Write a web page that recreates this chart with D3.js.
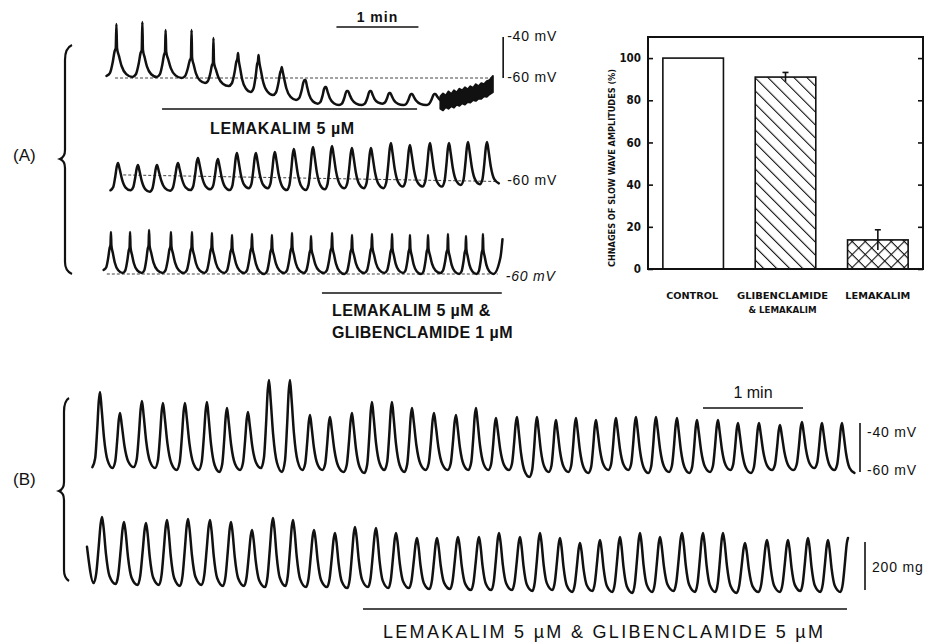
<!DOCTYPE html>
<html>
<head>
<meta charset="utf-8">
<script src="https://cdn.jsdelivr.net/npm/d3@7"></script>
<style>
body{margin:0;background:#fff;}
svg{font-family:"Liberation Sans",Arial,sans-serif;}
.trace{fill:none;stroke:#111;stroke-width:2.5;stroke-linejoin:round;stroke-linecap:round;}
.ref{fill:none;stroke:#444;stroke-width:1;stroke-dasharray:3,2;}
.bar{stroke:#111;stroke-width:1.6;}
</style>
</head>
<body>
<svg id="fig" width="933" height="644"></svg>
<script>
// ---- Panel A, time in s, membrane potential in mV ----
// A1: control then lemakalim 5 uM
const a1PeakT = [12, 31, 48, 67, 83, 101, 116, 133, 150, 165, 181, 198, 212, 228, 245];
const a1Top   = [-33.7, -32.7, -36.6, -36.6, -40.5, -47.8, -48.8, -54.6, -61, -64.4, -66.3, -66.3, -67.3, -67.8, -67.8];
const a1Hump  = [-45.4, -46.3, -47.3, -50.2, -52.7, -50.5, -51.5, -56, -61, -64.4, -66.3, -66.3, -67.3, -67.8, -67.8];
const a1Trough = [-59, -59.5, -59.5, -60, -62.4, -63.9, -66.8, -68.3, -70.7, -72.5, -73.2, -73.2, -72.5, -73.2, -73.2, -72];
// noisy band at the end of A1
const a1NoiseT  = [249, 251, 253, 255, 257, 259, 261, 263, 265, 267, 269, 271, 273, 275, 277, 279, 281, 283, 285, 287.5];
const a1NoiseHi = [-69, -67.5, -68.5, -66.5, -67.8, -66, -67, -65.2, -66, -64.5, -65.5, -64, -64.8, -63, -64, -62.5, -63, -61.5, -61, -59];
const a1NoiseLo = [-75, -75.8, -74.2, -75, -73.8, -74.5, -73, -73.6, -72.4, -73, -71.8, -72, -70.8, -71.2, -70, -70.2, -69, -69.2, -68, -67];

// A2: glibenclamide + lemakalim
const a2PeakT = [13.2, 27.8, 41.7, 57.1, 71.7, 86.3, 100.2, 114.1, 128, 141.9, 155.9, 169.8, 184.4, 198.3, 212.9, 226.8, 241.5, 255.4, 269.3, 283.2];
const a2Top   = [-52.7, -53.7, -53.7, -52.7, -50.2, -50.7, -47.8, -47.8, -47.3, -45.9, -44.9, -44.4, -45.4, -45.4, -42.9, -43.9, -42.9, -42.9, -42.4, -42.4];
const a2Trough = [-66, -66, -66.7, -66.2, -65.9, -65.5, -65.9, -65, -65, -65.9, -65.9, -65.5, -65, -65, -65, -64.2, -64.2, -64.2, -63.4, -63, -62.6];
const a2Ref = [{t: 17, v: -58.5}, {t: 291, v: -61.7}];

// A3: lemakalim 5 uM & glibenclamide 1 uM
const a3PeakT = [8, 22, 35.9, 51.9, 67.3, 81.9, 96.6, 111.2, 125.8, 140.5, 154.4, 169.8, 184.4, 199, 213.7, 226.8, 240, 254.6, 267.8, 280.2];
const a3Top   = [-39.5, -39.5, -38.5, -39.5, -39.5, -40, -41, -40.5, -41, -40, -41.5, -40, -41, -40.5, -40.5, -41, -41, -40.5, -41.5, -40.5];
const a3Hump  = [-46, -47, -46, -46.5, -47, -47, -47.5, -47, -47.5, -47, -48, -47, -47.5, -47, -47.5, -47.5, -47.5, -48, -48, -48];
const a3Trough = [-58, -59.5, -59.5, -59.5, -59.5, -59.5, -59.5, -59.5, -60, -59.5, -59.5, -59.5, -60, -59.5, -59.5, -59.5, -60, -59.5, -60, -60, -60];
const a3Tail = [{t: 293, v: -52}, {t: 294.5, v: -43}];

// ---- Panel B, time in s; B1 potential in mV, B2 tension in mg ----
const b1PeakT = [9, 21, 34.2, 46.8, 60, 73.2, 85.2, 97.8, 110.4, 123, 135, 147, 160.2, 172.2, 184.2, 196.2, 209.4, 222.6, 234.6, 246.6, 259.2, 271.2, 282.6, 294.6, 306.6, 318.6, 330.6, 342.6, 355.2, 367.2, 379.8, 391.8, 404.4, 417, 430.2, 442.2, 454.2];
const b1Top   = [-27.3, -35.9, -31, -31.8, -31.8, -31.4, -33.9, -35.5, -22.4, -22.4, -36.7, -37.6, -35.9, -31.4, -31.4, -33.9, -35.9, -36.7, -33.9, -38, -37.6, -37.6, -38.8, -38, -38.8, -38, -37.6, -37.6, -38, -38.8, -38.8, -40, -40, -40.8, -39.6, -40, -40];
const b1Trough = [-58, -58.4, -58, -58.4, -59.2, -59.2, -60, -59.2, -58.4, -60, -59.2, -59.2, -60, -60.4, -59.2, -60, -59.2, -59.2, -59.2, -59.2, -59.2, -62, -60, -60, -60.4, -59.2, -59.2, -60.4, -60, -60.4, -60, -59.2, -60.4, -59.2, -59.2, -58.4, -59.2, -60.4];

const b2PeakT = [10.2, 23.4, 36.6, 49.2, 61.8, 75, 87.6, 100.2, 112.8, 124.8, 137.4, 150, 162, 174.6, 186.6, 199.2, 211.2, 223.8, 236.4, 248.4, 261, 273, 285, 297, 309, 321, 333, 345, 358.2, 370.8, 382.8, 396, 409.2, 421.8, 433.8, 445.8, 457.8];
const b2Top   = [304, 283, 279, 292, 296, 292, 283, 250, 300, 292, 250, 238, 263, 258, 238, 217, 217, 221, 221, 238, 221, 238, 217, 196, 208, 221, 238, 221, 238, 238, 238, 196, 208, 208, 217, 208, 217];
const b2Trough = [29, 25, 21, 21, 17, 21, 17, 17, 12, 17, 12, 12, 8, 12, 8, 8, 4, 4, 0, 0, 0, -4, 0, -8, -4, -8, -12, -8, -4, -8, -8, -12, -8, -8, -4, -8, -8, -4];
const b2Lead = [{t: 1.2, v: 180}];
const b2End = 457.8;

// ---- bar chart ----
const barCats = ['CONTROL', 'GLIBENCLAMIDE', 'LEMAKALIM'];
const barSub  = ['', '& LEMAKALIM', ''];
const barVals = [100, 91, 13.8];
const barErr  = [0, 2.2, 4.8];
const barTicks = [0, 20, 40, 60, 80, 100];

// wave shapes: [phase in periods from the peak, fraction of the amplitude]
const spikeShape  = [[-0.38,0],[-0.25,0.1],[-0.14,0.5],[-0.07,0.88],[-0.025,1],[0,'top'],[0.025,1],[0.1,0.72],[0.2,0.38],[0.38,0.1]];
const roundShape  = [[-0.38,0],[-0.24,0.12],[-0.14,0.5],[-0.06,0.88],[0,'top'],[0.08,0.78],[0.2,0.4],[0.38,0.1]];
const smoothShape = [[-0.38,0],[-0.26,0.15],[-0.15,0.55],[-0.06,0.9],[0,'top'],[0.07,0.85],[0.18,0.45],[0.34,0.12]];

function tracePoints(peakT, tops, humps, troughs, shape){
	const n = peakT.length, pts = [];
	peakT.forEach((p,i) => {
		const pb = i > 0 ? p - peakT[i-1] : peakT[1] - peakT[0];
		const pa = i < n-1 ? peakT[i+1] - p : pb;
		const h = humps ? humps[i] : tops[i];
		shape.forEach(([ph,f]) => {
			if(f === 'top') pts.push({t:p, v:tops[i]});
			else if(ph < 0) pts.push({t:p + ph*pb, v:troughs[i] + f*(h - troughs[i])});
			else pts.push({t:p + ph*pa, v:troughs[i+1] + f*(h - troughs[i+1])});
		});
		if(i === n-1) pts.push({t:p + 0.62*pa, v:troughs[n]});
	});
	return pts;
}

const svg = d3.select('#fig');

// scales for the traces
const xA = d3.scaleLinear().domain([0,300]).range([100,510]);   // 60 s = 82 px
const xB = d3.scaleLinear().domain([0,480]).range([85,885]);    // 60 s = 100 px
const yA1 = d3.scaleLinear().domain([-60,-40]).range([78,37]);
const yA2 = d3.scaleLinear().domain([-60,-40]).range([178,137]);
const yA3 = d3.scaleLinear().domain([-60,-40]).range([274,233]);
const yB1 = d3.scaleLinear().domain([-60,-40]).range([472,423]);
const yB2 = d3.scaleLinear().domain([0,200]).range([590,542]);

function drawTrace(pts, x, y){
	const line = d3.line().x(d => x(d.t)).y(d => y(d.v)).curve(d3.curveMonotoneX);
	svg.append('path').attr('class','trace').attr('d', line(pts));
}
function refLine(pts, x, y){
	svg.append('path').attr('class','ref')
		.attr('d', d3.line().x(d => x(d.t)).y(d => y(d.v))(pts));
}
function txt(s, x, y, size, opts={}){
	const t = svg.append('text').attr('x',x).attr('y',y).attr('font-size',size)
		.attr('fill','#111').text(s);
	if(opts.bold) t.attr('font-weight','bold');
	if(opts.ls) t.attr('letter-spacing',opts.ls);
	if(opts.anchor) t.attr('text-anchor',opts.anchor);
	if(opts.italic) t.attr('font-style','italic');
	return t;
}
function hbar(x, t0, t1, yy){
	svg.append('line').attr('x1',x(t0)).attr('x2',x(t1)).attr('y1',yy).attr('y2',yy)
		.attr('stroke','#111').attr('stroke-width',1.6);
}
function vbar(xx, y, v0, v1){
	svg.append('line').attr('x1',xx).attr('x2',xx).attr('y1',y(v0)).attr('y2',y(v1))
		.attr('stroke','#111').attr('stroke-width',1.6);
}

// reference (dotted) lines
refLine([{t:11,v:-60},{t:287.5,v:-60}], xA, yA1);
refLine(a2Ref, xA, yA2);
refLine([{t:5,v:-60},{t:291,v:-60}], xA, yA3);

// A traces
drawTrace(tracePoints(a1PeakT, a1Top, a1Hump, a1Trough, spikeShape), xA, yA1);
const noise = a1NoiseT.map((t,i) => ({t, hi:a1NoiseHi[i], lo:a1NoiseLo[i]}));
svg.append('path')
	.attr('d', d3.area().x(d => xA(d.t)).y0(d => yA1(d.lo)).y1(d => yA1(d.hi))(noise))
	.attr('fill','#111').attr('stroke','#111').attr('stroke-width',1.8).attr('stroke-linejoin','round');
drawTrace(tracePoints(a2PeakT, a2Top, null, a2Trough, roundShape), xA, yA2);
drawTrace(tracePoints(a3PeakT, a3Top, a3Hump, a3Trough, spikeShape).concat(a3Tail), xA, yA3);

// B traces
drawTrace(tracePoints(b1PeakT, b1Top, null, b1Trough, roundShape), xB, yB1);
drawTrace(b2Lead.concat(tracePoints(b2PeakT, b2Top, null, b2Trough, smoothShape)).filter(d => d.t <= b2End), xB, yB2);

// A annotations
hbar(xA, 173, 233, 27);
txt('1 min', xA(203), 22, 14, {bold:true, anchor:'middle', ls:1});
vbar(xA(295), yA1, -60, -40);
txt('-40 mV', xA(295)+4, yA1(-40)+4, 14, {ls:0.8});
txt('-60 mV', xA(295)+4, yA1(-60)+4, 14, {ls:0.8});
txt('-60 mV', xA(295)+4, yA2(-61)+5, 14, {ls:0.8});
txt('-60 mV', xA(294)+4, yA3(-60)+7, 14, {ls:0.8, italic:true});
hbar(xA, 45.4, 232, 109);
txt('LEMAKALIM 5 \u00b5M', xA(45.4)+48, 134, 16, {bold:true, ls:0.6});
hbar(xA, 162.4, 294, 293);
txt('LEMAKALIM 5 \u00b5M &', 332, 316, 16, {bold:true, ls:0.4});
txt('GLIBENCLAMIDE 1 \u00b5M', 332, 338, 16, {bold:true, ls:0.4});

// B annotations
hbar(xB, 370.8, 430.8, 408);
txt('1 min', xB(400.8), 398, 16, {anchor:'middle'});
vbar(xB(465), yB1, -60, -40);
txt('-40 mV', xB(465)+7, yB1(-40)+14, 14, {ls:0.8});
txt('-60 mV', xB(465)+7, yB1(-59)+5, 14, {ls:0.8});
vbar(xB(468), yB2, 0, 200);
txt('200 mg', xB(468)+7, yB2(100)+6, 14, {ls:0.8});
hbar(xB, 166.8, 457.2, 609);
txt('LEMAKALIM 5 \u00b5M & GLIBENCLAMIDE 5 \u00b5M', 383, 638, 18, {ls:2.3});

// panel labels and braces
txt('(A)', 13, 161, 17);
txt('(B)', 13, 485, 17);
svg.append('path').attr('fill','none').attr('stroke','#111').attr('stroke-width',2.2)
	.attr('d','M72,45 Q65,48 65,60 L65,150 Q65,157 60,159 Q65,161 65,168 L65,262 Q65,271 72,274');
svg.append('path').attr('fill','none').attr('stroke','#111').attr('stroke-width',2.2)
	.attr('d','M69,398 Q64,401 64,412 L64,482 Q64,489 59,491 Q64,493 64,500 L64,570 Q64,578 69,581');

// ---- bar chart ----
const plot = {l:648, r:923, t:37, b:269};
const xBar = d3.scaleBand().domain(barCats).range([plot.l, plot.r]).paddingInner(0.344).paddingOuter(0.161);
const yBar = d3.scaleLinear().domain([0,110]).range([plot.b, plot.t]);

const defs = svg.append('defs');
const p1 = defs.append('pattern').attr('id','hatch').attr('patternUnits','userSpaceOnUse')
	.attr('width',9.2).attr('height',9.2).attr('patternTransform','rotate(-45)');
p1.append('line').attr('x1',0).attr('x2',0).attr('y1',0).attr('y2',9.2).attr('stroke','#111').attr('stroke-width',2.2);
const p2 = defs.append('pattern').attr('id','cross').attr('patternUnits','userSpaceOnUse')
	.attr('width',9.2).attr('height',9.2).attr('patternTransform','rotate(45)');
p2.append('line').attr('x1',0).attr('x2',0).attr('y1',0).attr('y2',9.2).attr('stroke','#111').attr('stroke-width',2.2);
p2.append('line').attr('x1',0).attr('x2',9.2).attr('y1',0).attr('y2',0).attr('stroke','#111').attr('stroke-width',2.2);
const fills = ['#fff','url(#hatch)','url(#cross)'];

const chart = svg.append('g').attr('font-family','"DejaVu Sans Condensed","DejaVu Sans",sans-serif').attr('font-weight','bold');

chart.selectAll('.bar')
	.data(barVals)
	.enter().append('rect')
	.attr('class','bar')
	.attr('x', (d,i) => xBar(barCats[i]))
	.attr('width', xBar.bandwidth())
	.attr('y', d => yBar(d))
	.attr('height', d => plot.b - yBar(d))
	.attr('fill', (d,i) => fills[i]);

// error bars
barVals.forEach((v,i) => {
	if(!barErr[i]) return;
	const cx = xBar(barCats[i]) + xBar.bandwidth()/2;
	const g = chart.append('g').attr('stroke','#111').attr('stroke-width',1.6);
	g.append('line').attr('x1',cx).attr('x2',cx).attr('y1',yBar(v - barErr[i])).attr('y2',yBar(v + barErr[i]));
	g.append('line').attr('x1',cx-3).attr('x2',cx+3).attr('y1',yBar(v + barErr[i])).attr('y2',yBar(v + barErr[i]));
});

// frame
chart.append('rect').attr('x',plot.l).attr('y',plot.t).attr('width',plot.r-plot.l).attr('height',plot.b-plot.t)
	.attr('fill','none').attr('stroke','#111').attr('stroke-width',2);

const axisL = d3.axisLeft(yBar).tickValues(barTicks).tickSize(-5).tickPadding(7);
const axL = chart.append('g').attr('transform',`translate(${plot.l},0)`).call(axisL);
axL.select('.domain').remove();
axL.selectAll('line').attr('stroke','#111').attr('stroke-width',1.6);
axL.selectAll('text').attr('font-size',11.5).attr('font-family','"DejaVu Sans Condensed","DejaVu Sans",sans-serif').attr('font-weight','bold').attr('fill','#111');

const axisR = d3.axisRight(yBar).tickValues(barTicks).tickSize(-5).tickFormat('');
const axR = chart.append('g').attr('transform',`translate(${plot.r},0)`).call(axisR);
axR.select('.domain').remove();
axR.selectAll('line').attr('stroke','#111').attr('stroke-width',1.6);

chart.append('text')
	.attr('transform',`translate(615,168) rotate(-90)`)
	.attr('text-anchor','middle').attr('font-size',9)
	.attr('textLength',198).attr('lengthAdjust','spacingAndGlyphs')
	.attr('fill','#111')
	.text('CHNAGES OF SLOW WAVE AMPLITUDES (%)');

const catW = [52, 91, 65];
barCats.forEach((c,i) => {
	const cx = xBar(c) + xBar.bandwidth()/2 + (i === 0 ? -1 : i === 1 ? -3 : 0);
	chart.append('text').attr('x',cx).attr('y',299).attr('text-anchor','middle')
		.attr('font-size',9.5).attr('textLength',catW[i]).attr('lengthAdjust','spacingAndGlyphs')
		.attr('fill','#111').text(c);
	if(barSub[i]) chart.append('text').attr('x',cx).attr('y',313).attr('text-anchor','middle')
		.attr('font-size',9.5).attr('textLength',68).attr('lengthAdjust','spacingAndGlyphs')
		.attr('fill','#111').text(barSub[i]);
});
</script>
</body>
</html>
